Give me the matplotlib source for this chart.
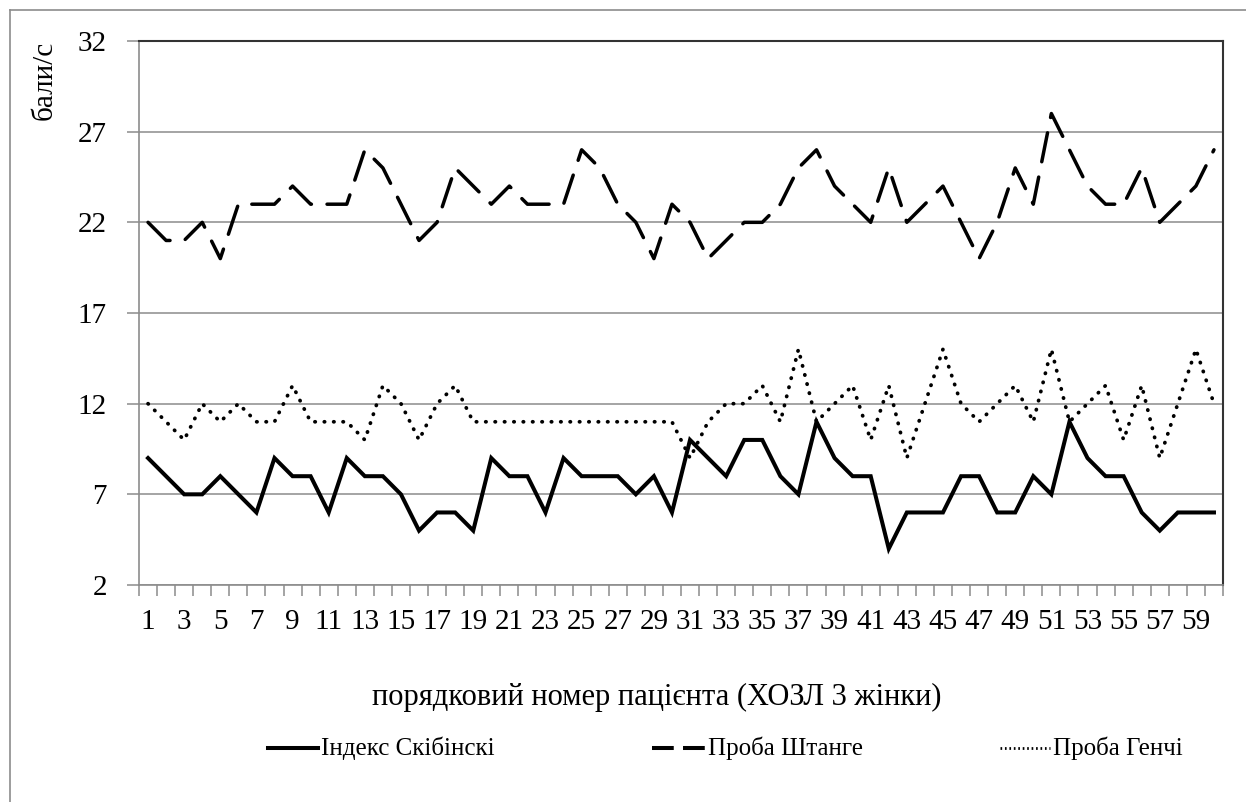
import numpy as np
import matplotlib
matplotlib.use("Agg")
import matplotlib.pyplot as plt
from matplotlib.lines import Line2D
from matplotlib.ticker import FixedLocator, NullFormatter

plt.rcParams['font.family'] = ['Liberation Serif', 'DejaVu Serif']

# номери пацієнтів
patients = list(range(1, 61))

# Індекс Скібінскі
skibinski = [9, 8, 7, 7, 8, 7, 6, 9, 8, 8, 6, 9, 8, 8, 7, 5, 6, 6, 5, 9,
             8, 8, 6, 9, 8, 8, 8, 7, 8, 6, 10, 9, 8, 10, 10, 8, 7, 11, 9, 8,
             8, 4, 6, 6, 6, 8, 8, 6, 6, 8, 7, 11, 9, 8, 8, 6, 5, 6, 6, 6]

# Проба Штанге
shtange = [22, 21, 21, 22, 20, 23, 23, 23, 24, 23, 23, 23, 26, 25, 23, 21, 22, 25, 24, 23,
           24, 23, 23, 23, 26, 25, 23, 22, 20, 23, 22, 20, 21, 22, 22, 23, 25, 26, 24, 23,
           22, 25, 22, 23, 24, 22, 20, 22, 25, 23, 28, 26, 24, 23, 23, 25, 22, 23, 24, 26]

# Проба Генчі
genchi = [12, 11, 10, 12, 11, 12, 11, 11, 13, 11, 11, 11, 10, 13, 12, 10, 12, 13, 11, 11,
          11, 11, 11, 11, 11, 11, 11, 11, 11, 11, 9, 11, 12, 12, 13, 11, 15, 11, 12, 13,
          10, 13, 9, 12, 15, 12, 11, 12, 13, 11, 15, 11, 12, 13, 10, 13, 9, 12, 15, 12]

series_names = ['Індекс Скібінскі', 'Проба Штанге', 'Проба Генчі']
y_ticks = [2, 7, 12, 17, 22, 27, 32]
x_labels = list(range(1, 61, 2))

W, H = 1246, 802
fig = plt.figure(figsize=(W / 100, H / 100), dpi=100)
ax = fig.add_axes([139 / W, 1 - 585 / H, (1223 - 139) / W, (585 - 41) / H])

grey = '#8c8c8c'
fs = 21

styles = [
    dict(color='black', lw=2.9, linestyle='-', solid_joinstyle='miter'),
    dict(color='black', lw=2.5, linestyle=(0, (8.5, 4.5)), dash_capstyle='round'),
    dict(color='black', lw=2.7, linestyle=(0, (0.1, 2.4)), dash_capstyle='round'),
]

for data, st in zip([skibinski, shtange, genchi], styles):
    ax.plot(patients, data, **st)

ax.set_xlim(0.5, 60.5)
ax.set_ylim(2, 32)
ax.set_yticks(y_ticks)
ax.yaxis.grid(True, color=grey, lw=1.1)
ax.set_axisbelow(True)

ax.set_xticks(x_labels)
ax.set_xticklabels([str(v) for v in x_labels])
ax.xaxis.set_minor_locator(FixedLocator(np.arange(0.5, 61, 1)))
ax.xaxis.set_minor_formatter(NullFormatter())
ax.tick_params(axis='x', which='major', length=0, pad=17, labelsize=fs)
ax.tick_params(axis='x', which='minor', length=8, width=1.1, color=grey, direction='out')
ax.tick_params(axis='y', length=9, width=1.1, color=grey, pad=14, labelsize=fs)

for s in ['left', 'bottom']:
    ax.spines[s].set_color(grey)
    ax.spines[s].set_linewidth(1.2)
for s in ['top', 'right']:
    ax.spines[s].set_color('#333333')
    ax.spines[s].set_linewidth(1.5)

fig.text(45 / W, 1 - 80 / H, 'бали/с', rotation=90, ha='center', va='center', fontsize=fs)
fig.text(657 / W, 1 - 697 / H, 'порядковий номер пацієнта (ХОЗЛ 3 жінки)',
         ha='center', va='center', fontsize=22)

# легенда
leg_y = 1 - 748 / H
handle_x = [(268, 318), (652, 705), (1000, 1050)]
leg_styles = [
    dict(color='black', lw=2.9, linestyle='-'),
    dict(color='black', lw=2.9, linestyle=(0, (5.4, 2.3))),
    dict(color='black', lw=2.0, linestyle=(0, (0.6, 1.0))),
]
for (x0, x1), st, name in zip(handle_x, leg_styles, series_names):
    fig.add_artist(Line2D([x0 / W, x1 / W], [leg_y, leg_y], transform=fig.transFigure, **st))
    fig.text((x1 + 3) / W, leg_y, name, ha='left', va='center', fontsize=18)

# рамка діаграми
fig.add_artist(Line2D([10 / W, 10 / W], [0, 1 - 10 / H], transform=fig.transFigure,
                      color=grey, lw=1.2))
fig.add_artist(Line2D([10 / W, 1], [1 - 10 / H, 1 - 10 / H], transform=fig.transFigure,
                      color=grey, lw=1.2))

fig.savefig('out.png', dpi=100)
